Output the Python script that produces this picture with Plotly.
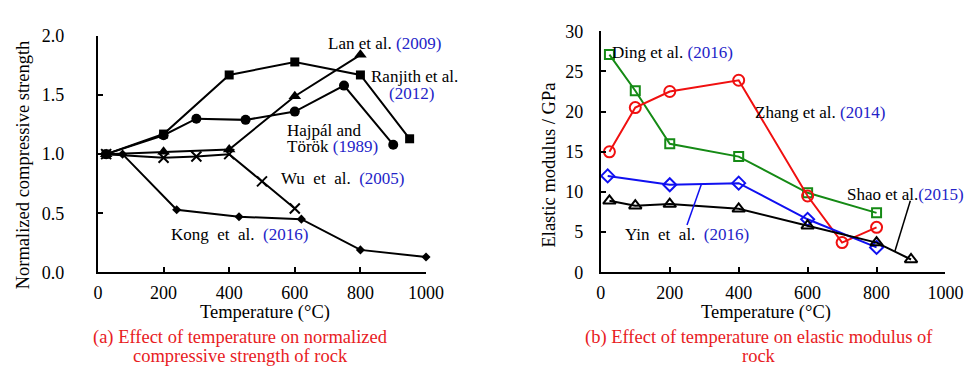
import plotly.graph_objects as go

W, H = 976, 367
FONT = "Liberation Serif"
BLUE_TXT = "#2323c8"
RED_TXT = "#e8201e"

# ---------- Panel (a) data ----------
ranjith_T = [25, 200, 400, 600, 800, 950]
ranjith_v = [1.00, 1.17, 1.67, 1.78, 1.67, 1.13]
hajpal_T = [25, 200, 300, 450, 600, 750, 900]
hajpal_v = [1.00, 1.16, 1.30, 1.29, 1.36, 1.58, 1.08]
lan_T = [25, 200, 400, 600, 800]
lan_v = [1.00, 1.02, 1.04, 1.49, 1.84]
wu_T = [25, 200, 300, 400, 500, 600]
wu_v = [1.00, 0.97, 0.98, 1.00, 0.77, 0.54]
kong_T = [20, 75, 240, 430, 620, 800, 1000]
kong_v = [1.00, 1.00, 0.53, 0.47, 0.45, 0.19, 0.13]

# ---------- Panel (b) data ----------
ding_T = [25, 100, 200, 400, 600, 800]
ding_v = [27.1, 22.6, 16.0, 14.4, 9.9, 7.4]
zhang_T = [25, 100, 200, 400, 600, 700, 800]
zhang_v = [15.0, 20.5, 22.5, 23.9, 9.5, 3.7, 5.6]
yin_T = [20, 200, 400, 600, 800]
yin_v = [12.0, 10.9, 11.1, 6.6, 3.1]
shao_T = [25, 100, 200, 400, 600, 800, 900]
shao_v = [8.9, 8.3, 8.5, 7.9, 5.8, 3.7, 1.6]

x_ticks = [0, 200, 400, 600, 800, 1000]
ya_ticks = [0.0, 0.5, 1.0, 1.5, 2.0]
yb_ticks = [0, 5, 10, 15, 20, 25, 30]


def px(x):
    return x / W


def py(y):
    return 1 - y / H


fig = go.Figure()


def add(T, v, symbol, size, color, xa, ya, lw=2, mlw=2):
    fig.add_trace(go.Scatter(
        x=T, y=v, mode="lines+markers", xaxis=xa, yaxis=ya,
        line=dict(color=color, width=lw),
        marker=dict(symbol=symbol, size=size, color=color,
                    line=dict(color=color, width=mlw)),
        cliponaxis=False, showlegend=False, hoverinfo="skip"))


add(ranjith_T, ranjith_v, "square", 9, "black", "x", "y", mlw=0)
add(hajpal_T, hajpal_v, "circle", 10, "black", "x", "y", mlw=0)
add(lan_T, lan_v, "triangle-up", 11, "black", "x", "y", mlw=0)
add(wu_T, wu_v, "x-thin", 10, "black", "x", "y", mlw=2)
add(kong_T, kong_v, "diamond", 7, "black", "x", "y", mlw=0)

add(ding_T, ding_v, "square-open", 9, "#158a15", "x2", "y2")
add(zhang_T, zhang_v, "circle-open", 11, "#f01010", "x2", "y2")
add(yin_T, yin_v, "diamond-open", 10, "#1010f0", "x2", "y2")
add(shao_T, shao_v, "triangle-up-open", 11, "black", "x2", "y2")

axis_common = dict(showline=True, linecolor="black", linewidth=2,
                   ticks="inside", ticklen=5, tickwidth=2, tickcolor="black",
                   showgrid=False, zeroline=False,
                   tickfont=dict(family=FONT, size=18, color="black"))

fig.update_layout(
    width=W, height=H,
    margin=dict(l=0, r=0, t=0, b=0),
    paper_bgcolor="white", plot_bgcolor="white",
    font=dict(family=FONT, color="black"),
    xaxis=dict(domain=[px(87), px(423)], range=[0, 1000], anchor="y",
               tickvals=x_ticks, ticklabelstandoff=3, **axis_common),
    yaxis=dict(domain=[py(269), py(19)], range=[0, 2], anchor="x",
               tickvals=ya_ticks, tickformat=".1f", ticklabelstandoff=28,
               **axis_common),
    xaxis2=dict(domain=[px(602), px(955)], range=[0, 1000], anchor="y2",
                tickvals=x_ticks, ticklabelstandoff=3, **axis_common),
    yaxis2=dict(domain=[py(269), py(14)], range=[0, 30], anchor="x2",
                tickvals=yb_ticks, ticklabelstandoff=12, **axis_common),
)

# leader lines
fig.add_shape(type="line", xref="x2", yref="y2", x0=250, y0=5.9, x1=292,
              y1=11.0, line=dict(color="#1010f0", width=1.5))
fig.add_shape(type="line", xref="x2", yref="y2", x0=898, y0=8.9, x1=853,
              y1=2.6, line=dict(color="black", width=1.5))


def yr(s):
    return f"<span style='color:{BLUE_TXT}'>{s}</span>"


def ann(text, x, y, size=17, xanchor="center", align="center", color="black",
        textangle=0):
    fig.add_annotation(text=text, x=px(x), y=py(y), xref="paper",
                       yref="paper", showarrow=False, xanchor=xanchor,
                       yanchor="middle", align=align, textangle=textangle,
                       font=dict(family=FONT, size=size, color=color))


# series labels panel (a)
ann("Lan et al. " + yr("(2009)"), 380, 27)
ann("Ranjith et al.", 411, 62)
ann(yr("(2012)"), 408, 80)
ann("Hajpál and", 279, 119, xanchor="left")
ann("Török " + yr("(1989)"), 279, 136, xanchor="left")
ann("Wu&nbsp;&nbsp;et&nbsp;&nbsp;al.&nbsp;&nbsp;" + yr("(2005)"), 337, 170)
ann("Kong&nbsp;&nbsp;et&nbsp;&nbsp;al.&nbsp;&nbsp;" + yr("(2016)"), 232, 229)

# series labels panel (b)
ann("Ding et al. " + yr("(2016)"), 675, 37)
ann("Zhang et al. " + yr("(2014)"), 826, 100)
ann("Yin&nbsp;&nbsp;et&nbsp;&nbsp;al.&nbsp;&nbsp;" + yr("(2016)"), 690, 229)
ann("Shao et al." + yr("(2015)"), 976, 187, xanchor="right")

# axis titles
ann("Temperature (°C)", 258, 311, size=18.5)
ann("Temperature (°C)", 771, 311, size=18.5)
ann("Normalized compressive strength", 10, 155, size=18.5, textangle=-90)
ann("Elastic modulus / GPa", 549, 156, size=18.5, textangle=-90)

# captions
ann("(a) Effect of temperature on normalized", 233, 338, size=18.5,
    color=RED_TXT)
ann("compressive strength of rock", 233, 358, size=18.5, color=RED_TXT)
ann("(b) Effect of temperature on elastic modulus of", 764, 338, size=18.5,
    color=RED_TXT)
ann("rock", 764, 358, size=18.5, color=RED_TXT)

fig.write_html("out.html")
